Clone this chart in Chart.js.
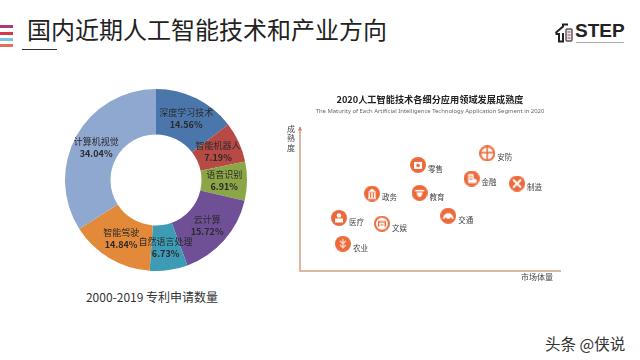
<!DOCTYPE html>
<html>
<head>
<meta charset="utf-8">
<script src="https://cdn.jsdelivr.net/npm/chart.js@4"></script>
<style>
  html, body { margin: 0; padding: 0; background: #fff; }
  #page { position: relative; width: 640px; height: 360px; overflow: hidden; font-family: "Noto Sans CJK SC", sans-serif; }
  #page div, #page canvas, #page svg { position: absolute; }
  .bar { left: 0; width: 13px; height: 3px; }
</style>
</head>
<body>
<div id="page">
  <div class="bar" style="top:25px;background:#b03a78"></div>
  <div class="bar" style="top:32px;background:#d03a4a"></div>
  <div class="bar" style="top:38px;background:#7cc4dc"></div>
  <div class="bar" style="top:44px;background:#e0705a"></div>
  <div style="left:22px;top:49px;width:35px;height:1px;background:#333"></div>
  <div style="left:27px;top:11px;font-size:24px;line-height:36px;color:#222;white-space:nowrap">国内近期人工智能技术和产业方向</div>

  <svg style="left:554px;top:23px" width="22" height="20" viewBox="0 0 22 20">
    <path d="M1.5 10 L9 3.5 L9 1.5 L14 1.5 M9 10 L9 18.5 L5 18.5 L5 11 L1.5 11" fill="none" stroke="#222" stroke-width="2"/>
    <rect x="12" y="6" width="6" height="12" rx="1" fill="#f3e6ea" stroke="#555" stroke-width="1.4"/>
    <path d="M13.5 9 H16.5 M13.5 12 H16.5 M13.5 15 H16.5" stroke="#a04060" stroke-width="1"/>
  </svg>
  <div style="left:575px;top:19px;font:bold 19px/24px 'Liberation Sans';color:#222;white-space:nowrap">STEP</div>
  <div style="left:576px;top:42px;width:48px;height:1px;background:#aaa"></div>

  <canvas id="donut" width="182" height="182" style="left:65px;top:89px"></canvas>
  <div style="left:52px;top:288px;width:200px;text-align:center;font-size:12px;line-height:18px;color:#333;white-space:nowrap">2000-2019 专利申请数量</div>

  <canvas id="maturity" width="285" height="195" style="left:280px;top:90px"></canvas>

  <div style="left:545px;top:332px;font-size:15.5px;line-height:22px;color:#333;white-space:nowrap">头条 @侠说</div>
</div>
<script>
// patent share of each AI field
const fields = ['深度学习技术', '智能机器人', '语音识别', '云计算', '自然语言处理', '智能驾驶', '计算机视觉'];
const shares = [14.56, 7.19, 6.91, 15.72, 6.73, 14.84, 34.04];
const fieldColors = ['#4a76ab', '#b84a46', '#8ba646', '#6f5096', '#3e9bb5', '#e28a3a', '#8fa8d0'];

// application segments, both axes are unitless so read as 0-100
const segments = ['安防', '零售', '金融', '制造', '政务', '教育', '交通', '医疗', '文娱', '农业'];
const marketSize = [72, 45.4, 66, 83.5, 27.7, 46, 57, 15, 31.5, 16.5];
const maturity = [82, 74, 64.5, 61, 54, 54.5, 38.5, 37, 33, 19];

const cjk = '"Noto Sans CJK SC", sans-serif';
const orange = '#ec6a3a';

// labels on the ring, placed at each arc's own center
const ringLabels = {
  id: 'ringLabels',
  afterDatasetsDraw(chart) {
    const ctx = chart.ctx;
    ctx.save();
    ctx.textAlign = 'center';
    ctx.textBaseline = 'middle';
    chart.getDatasetMeta(0).data.forEach(function(arc, i) {
      const p = arc.tooltipPosition();
      ctx.fillStyle = '#2a2a2a';
      ctx.font = '9px ' + cjk;
      ctx.fillText(fields[i], p.x, p.y - 6);
      ctx.font = 'bold 9px ' + cjk;
      ctx.fillText(shares[i].toFixed(2) + '%', p.x, p.y + 6);
    });
    ctx.restore();
  }
};

new Chart(document.getElementById('donut'), {
  type: 'doughnut',
  data: {
    labels: fields,
    datasets: [{ data: shares, backgroundColor: fieldColors, borderWidth: 0 }]
  },
  options: {
    responsive: false,
    animation: false,
    cutout: '50%',
    plugins: { legend: { display: false }, tooltip: { enabled: false } }
  },
  plugins: [ringLabels]
});

function whiteDisc(c) {
  c.fillStyle = '#fff';
  c.beginPath();
  c.arc(8, 8, 6, 0, 7);
  c.fill();
}

// white glyph for each segment, drawn on a 16px orange disc
const glyphs = {
  '安防': function(c) {
    whiteDisc(c);
    c.fillStyle = orange;
    c.fillRect(7.2, 2, 1.6, 12);
    c.fillRect(2, 6.5, 12, 1.6);
  },
  '零售': function(c) {
    c.fillStyle = '#fff';
    c.fillRect(4, 5, 8, 7);
    c.fillStyle = orange;
    c.beginPath();
    c.arc(8, 8.5, 1.8, 0, 7);
    c.fill();
  },
  '金融': function(c) {
    c.fillStyle = '#fff';
    c.fillRect(4.5, 3.5, 5.5, 9);
    c.beginPath();
    c.arc(11, 10.5, 2.2, 0, 7);
    c.fill();
    c.fillStyle = orange;
    c.fillRect(5.5, 5.5, 3.5, 1);
    c.fillRect(5.5, 8, 3.5, 1);
  },
  '制造': function(c) {
    c.lineWidth = 2;
    c.beginPath();
    c.moveTo(4, 4);
    c.lineTo(12, 12);
    c.moveTo(12, 4);
    c.lineTo(4, 12);
    c.stroke();
  },
  '政务': function(c) {
    c.fillStyle = '#fff';
    c.beginPath();
    c.moveTo(3.5, 6.5);
    c.lineTo(8, 3);
    c.lineTo(12.5, 6.5);
    c.fill();
    c.fillRect(4, 12, 8, 1.3);
    c.fillRect(4.5, 7, 1.5, 5);
    c.fillRect(7.2, 7, 1.5, 5);
    c.fillRect(10, 7, 1.5, 5);
  },
  '教育': function(c) {
    c.fillStyle = '#fff';
    c.fillRect(3.5, 5, 9, 1.5);
    c.beginPath();
    c.moveTo(5, 7.5);
    c.lineTo(11, 7.5);
    c.lineTo(10, 11);
    c.lineTo(8, 12.5);
    c.lineTo(6, 11);
    c.fill();
  },
  '交通': function(c) {
    c.fillStyle = '#fff';
    c.beginPath();
    c.moveTo(2.5, 11);
    c.lineTo(3.5, 8);
    c.lineTo(6, 5.5);
    c.lineTo(10, 5.5);
    c.lineTo(12.5, 8);
    c.lineTo(13.5, 11);
    c.fill();
    c.fillStyle = orange;
    c.beginPath();
    c.arc(5.5, 10.5, 1, 0, 7);
    c.arc(10.5, 10.5, 1, 0, 7);
    c.fill();
  },
  '医疗': function(c) {
    c.fillStyle = '#fff';
    c.beginPath();
    c.arc(8, 5.5, 2.3, 0, 7);
    c.fill();
    c.fillRect(4, 8.5, 8, 4);
  },
  '文娱': function(c) {
    whiteDisc(c);
    c.fillStyle = orange;
    c.fillRect(4.5, 5.5, 7, 1.3);
    c.fillRect(4, 5.5, 1.4, 5.5);
    c.fillRect(10.6, 5.5, 1.4, 5.5);
    c.fillRect(6.5, 8.5, 3, 1.2);
  },
  '农业': function(c) {
    c.strokeStyle = '#fbd8c8';
    c.lineWidth = 1.3;
    c.beginPath();
    c.moveTo(8, 3);
    c.lineTo(8, 13);
    c.moveTo(5, 5);
    c.lineTo(8, 8);
    c.lineTo(11, 5);
    c.moveTo(5, 9);
    c.lineTo(8, 12);
    c.lineTo(11, 9);
    c.stroke();
  }
};

function makeIcon(name) {
  const cv = document.createElement('canvas');
  cv.width = 16;
  cv.height = 16;
  const c = cv.getContext('2d');
  c.fillStyle = orange;
  c.beginPath();
  c.arc(8, 8, 8, 0, 7);
  c.fill();
  c.strokeStyle = '#fff';
  glyphs[name](c);
  return cv;
}

// segment names, axis arrow and axis captions
const maturityNotes = {
  id: 'maturityNotes',
  afterDatasetsDraw(chart) {
    const ctx = chart.ctx;
    const a = chart.chartArea;
    ctx.save();
    ctx.fillStyle = '#e2785a';
    ctx.beginPath();
    ctx.moveTo(a.left - 2, a.top + 3);
    ctx.lineTo(a.left, a.top - 1);
    ctx.lineTo(a.left + 2, a.top + 3);
    ctx.fill();

    ctx.fillStyle = '#444';
    ctx.textBaseline = 'middle';
    ctx.font = '7.5px ' + cjk;
    chart.getDatasetMeta(0).data.forEach(function(pt, i) {
      ctx.fillText(segments[i], pt.x + 10, pt.y + 4);
    });

    ctx.font = '8px ' + cjk;
    ctx.textAlign = 'center';
    ['成', '熟', '度'].forEach(function(ch, i) {
      ctx.fillText(ch, a.left - 9, a.top + 1 + i * 9.5);
    });
    ctx.textAlign = 'right';
    ctx.fillText('市场体量', a.right - 7, a.bottom + 6);
    ctx.restore();
  }
};

new Chart(document.getElementById('maturity'), {
  type: 'scatter',
  data: {
    labels: segments,
    datasets: [{
      data: marketSize.map(function(x, i) { return { x: x, y: maturity[i] }; }),
      pointStyle: segments.map(makeIcon)
    }]
  },
  options: {
    responsive: false,
    animation: false,
    layout: { padding: { left: 20, right: 5, top: 0, bottom: 14 } },
    scales: {
      x: {
        min: 0, max: 100,
        ticks: { display: false },
        grid: { display: false, drawTicks: false },
        border: { color: '#dfb7a0', width: 2 }
      },
      y: {
        min: 0, max: 100,
        ticks: { display: false },
        grid: { display: false, drawTicks: false },
        border: { color: '#dfb7a0', width: 2 }
      }
    },
    plugins: {
      legend: { display: false },
      tooltip: { enabled: false },
      title: {
        display: true,
        text: '2020人工智能技术各细分应用领域发展成熟度',
        color: '#222',
        font: { family: cjk, size: 9.2, weight: 'bold' },
        padding: { top: 4, bottom: 3 }
      },
      subtitle: {
        display: true,
        text: 'The Maturity of Each Artificial Intelligence Technology Application Segment in 2020',
        color: '#666',
        font: { family: '"Noto Sans", sans-serif', size: 5.9 },
        padding: { top: 0, bottom: 12.5 }
      }
    }
  },
  plugins: [maturityNotes]
});
</script>
</body>
</html>
